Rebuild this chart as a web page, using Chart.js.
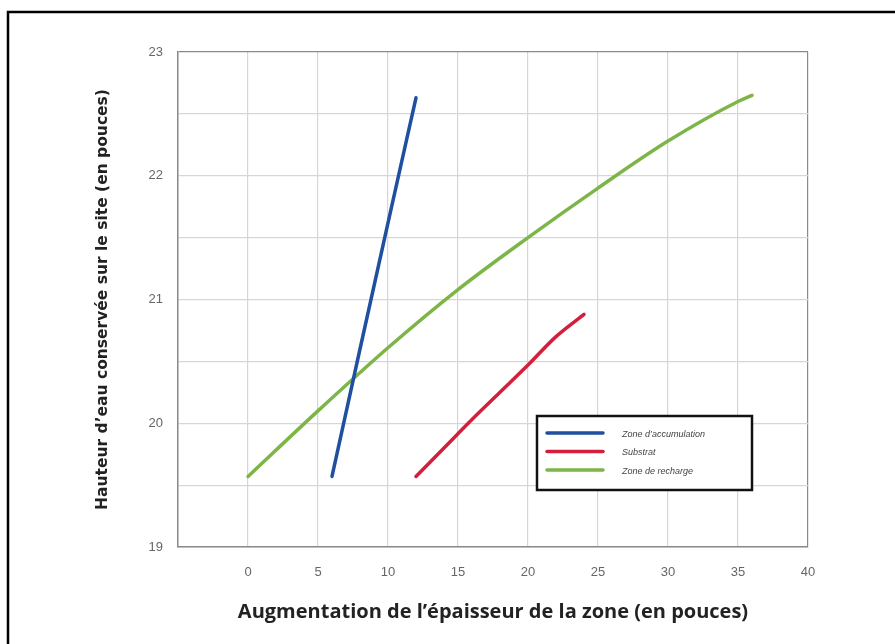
<!DOCTYPE html>
<html>
<head>
<meta charset="utf-8">
<script src="https://cdn.jsdelivr.net/npm/chart.js@4"></script>
<style>
  html, body { margin: 0; padding: 0; background: #fff; }
  #wrap { width: 895px; height: 644px; position: relative; }
</style>
</head>
<body>
<div id="wrap"><canvas id="chart"></canvas></div>
<script>
// epaisseur de la zone (pouces) -> hauteur d'eau conservee (pouces)
const accumX = [6, 8, 10, 12]
const accumY = [19.57, 20.6, 21.62, 22.63]

const substratX = [12, 14, 16, 18, 20, 22, 24]
const substratY = [19.57, 19.8, 20.03, 20.25, 20.47, 20.7, 20.88]

const rechargeX = [0, 5, 10, 15, 20, 25, 30, 35, 36]
const rechargeY = [19.57, 20.1, 20.61, 21.08, 21.5, 21.9, 22.28, 22.6, 22.65]

const seriesNames = ['Zone d\u2019accumulation', 'Substrat', 'Zone de recharge']
const seriesColors = ['#1f4f9e', '#d41f3c', '#7db548']

const xTitle = 'Augmentation de l\u2019épaisseur de la zone (en pouces)'
const yTitle = 'Hauteur d\u2019eau conservée sur le site (en pouces)'

const toPoints = (xs, ys) => xs.map((x, i) => ({ x, y: ys[i] }))

function makeSet(i, xs, ys) {
  return {
    label: seriesNames[i],
    data: toPoints(xs, ys),
    borderColor: seriesColors[i],
    backgroundColor: seriesColors[i],
    borderWidth: 3.5,
    pointRadius: 0,
    showLine: true,
    cubicInterpolationMode: 'monotone',
    borderCapStyle: 'round'
  }
}

// legend box drawn inside the plot, like the original
const boxLegend = {
  id: 'boxLegend',
  afterDatasetsDraw(chart) {
    const { ctx, chartArea } = chart
    const left = chartArea.left + 359
    const top = chartArea.top + 364
    const w = 215, h = 74
    ctx.save()
    ctx.fillStyle = '#fff'
    ctx.fillRect(left, top, w, h)
    ctx.lineWidth = 2.5
    ctx.strokeStyle = '#111'
    ctx.strokeRect(left, top, w, h)
    chart.data.datasets.forEach((ds, i) => {
      const y = top + 17 + i * 18.5
      ctx.beginPath()
      ctx.moveTo(left + 10, y)
      ctx.lineTo(left + 66, y)
      ctx.lineWidth = 3.5
      ctx.lineCap = 'round'
      ctx.strokeStyle = ds.borderColor
      ctx.stroke()
      ctx.fillStyle = '#444'
      ctx.font = 'italic 9px "Liberation Sans", Arial, sans-serif'
      ctx.textBaseline = 'middle'
      ctx.fillText(ds.label, left + 85, y + 1)
    })
    ctx.restore()
  }
}

// top and left frame lines of the figure
const frame = {
  id: 'frame',
  beforeDraw(chart) {
    const ctx = chart.ctx
    ctx.save()
    ctx.strokeStyle = '#000'
    ctx.lineWidth = 2.5
    ctx.beginPath()
    ctx.moveTo(8, 644)
    ctx.lineTo(8, 12)
    ctx.lineTo(895, 12)
    ctx.stroke()
    ctx.restore()
  }
}

const edgeGrid = (edge) => (c) => (c.tick && c.tick.value === edge ? '#8a8a8a' : '#d6d6d6')

new Chart(document.getElementById('chart'), {
  type: 'scatter',
  data: {
    datasets: [
      makeSet(0, accumX, accumY),
      makeSet(1, substratX, substratY),
      makeSet(2, rechargeX, rechargeY)
    ]
  },
  options: {
    responsive: true,
    maintainAspectRatio: false,
    animation: false,
    layout: { padding: { left: 94, top: 52, right: 87, bottom: 20 } },
    plugins: {
      legend: { display: false },
      tooltip: { enabled: false }
    },
    scales: {
      x: {
        type: 'linear',
        min: -5,
        max: 40,
        afterFit: (s) => { s.height = 644 - 547 - 20 },
        border: { color: '#8a8a8a', width: 1.5 },
        grid: { color: edgeGrid(40), drawTicks: false, lineWidth: 1.2 },
        ticks: {
          stepSize: 5,
          padding: 18,
          color: '#666',
          font: { family: '"Liberation Sans", Arial, sans-serif', size: 13 },
          callback: (v) => (v < 0 ? '' : v)
        },
        title: {
          display: true,
          text: xTitle,
          color: '#222',
          padding: 0,
          font: { family: '"Open Sans", Lato, sans-serif', size: 20, weight: 'bold' }
        }
      },
      y: {
        min: 19,
        max: 23,
        afterFit: (s) => { s.width = 178 - 94 },
        border: { color: '#8a8a8a', width: 1.5 },
        grid: { color: edgeGrid(23), drawTicks: false, lineWidth: 1.2 },
        ticks: {
          stepSize: 0.5,
          padding: 15,
          color: '#666',
          font: { family: '"Liberation Sans", Arial, sans-serif', size: 13 },
          callback: (v) => (Number.isInteger(v) ? v : '')
        },
        title: {
          display: true,
          text: yTitle,
          color: '#222',
          padding: 0,
          font: { family: '"DejaVu Sans", Verdana, sans-serif', size: 15.5, weight: 'bold' }
        }
      }
    }
  },
  plugins: [frame, boxLegend]
})
</script>
</body>
</html>
